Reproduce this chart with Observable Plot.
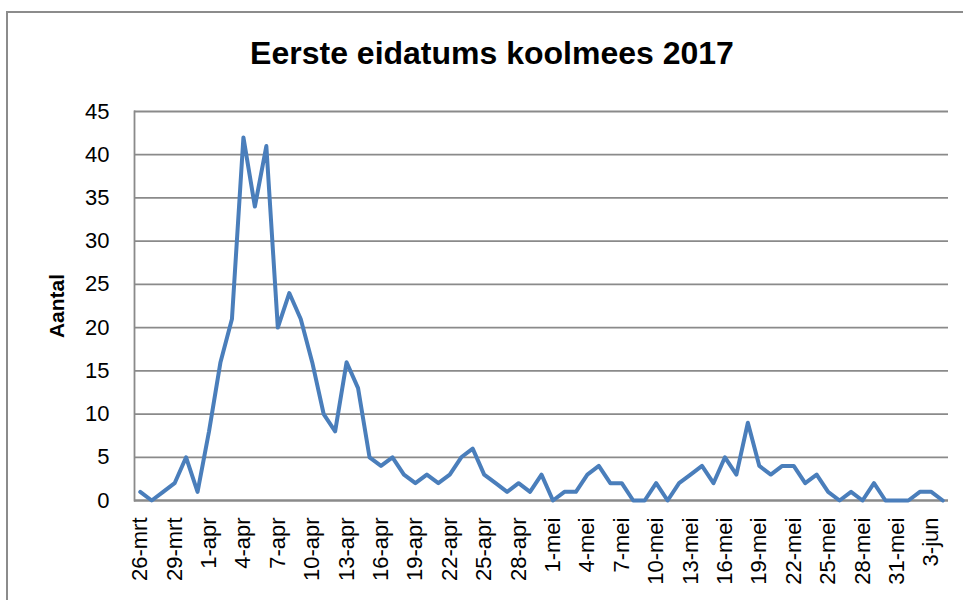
<!DOCTYPE html>
<html>
<head>
<meta charset="utf-8">
<script src="https://cdn.jsdelivr.net/npm/d3@7"></script>
<script src="https://cdn.jsdelivr.net/npm/@observablehq/plot@0.6"></script>
<style>
  html, body { margin: 0; padding: 0; background: #fff; overflow: hidden; width: 963px; height: 600px; }
  #border { position: absolute; left: 6px; top: 11px; width: 1000px; height: 700px; border: 2px solid #8c8c8c; box-sizing: border-box; }
  #title { position: relative; height: 80px; width: 963px; box-sizing: border-box; padding-left: 21px; padding-top: 33px;
           text-align: center; font-family: "Liberation Sans", Arial, sans-serif; font-weight: bold; font-size: 32px; line-height: 40px; color: #000; }
  #chart { position: relative; }
</style>
</head>
<body>
<div id="border"></div>
<div id="title">Eerste eidatums koolmees 2017</div>
<div id="chart"></div>
<script>
const dates = [
  "26-mrt","27-mrt","28-mrt","29-mrt","30-mrt","31-mrt",
  "1-apr","2-apr","3-apr","4-apr","5-apr","6-apr","7-apr","8-apr","9-apr","10-apr",
  "11-apr","12-apr","13-apr","14-apr","15-apr","16-apr","17-apr","18-apr","19-apr","20-apr",
  "21-apr","22-apr","23-apr","24-apr","25-apr","26-apr","27-apr","28-apr","29-apr","30-apr",
  "1-mei","2-mei","3-mei","4-mei","5-mei","6-mei","7-mei","8-mei","9-mei","10-mei",
  "11-mei","12-mei","13-mei","14-mei","15-mei","16-mei","17-mei","18-mei","19-mei","20-mei",
  "21-mei","22-mei","23-mei","24-mei","25-mei","26-mei","27-mei","28-mei","29-mei","30-mei","31-mei",
  "1-jun","2-jun","3-jun","4-jun"
];
const aantal = [
  1,0,1,2,5,1,
  8,16,21,42,34,41,20,24,21,16,
  10,8,16,13,5,4,5,3,2,3,
  2,3,5,6,3,2,1,2,1,3,
  0,1,1,3,4,2,2,0,0,2,
  0,2,3,4,2,5,3,9,4,3,
  4,4,2,3,1,0,1,0,2,0,0,
  0,1,1,0
];
const xTickLabels = ["26-mrt","29-mrt","1-apr","4-apr","7-apr","10-apr","13-apr","16-apr","19-apr","22-apr","25-apr","28-apr",
  "1-mei","4-mei","7-mei","10-mei","13-mei","16-mei","19-mei","22-mei","25-mei","28-mei","31-mei","3-jun"];
const yTicks = [0,5,10,15,20,25,30,35,40,45];
const yLabel = "Aantal";

const gray = "#8a8a8a";
const chart = Plot.plot({
  width: 963,
  height: 520,
  marginLeft: 134,
  marginRight: 15,
  marginTop: 31,
  marginBottom: 100,
  style: { fontFamily: "'Liberation Sans', Arial, sans-serif", fontSize: "22px", color: "#000", background: "transparent", overflow: "visible" },
  x: { type: "point", domain: dates, padding: 0.5 },
  y: { domain: [0, 45] },
  marks: [
    Plot.gridY(yTicks, { stroke: gray, strokeOpacity: 1, strokeWidth: 1.8 }),
    Plot.frame({ anchor: "left", stroke: gray, strokeOpacity: 1, strokeWidth: 1.8 }),
    Plot.ruleY([0], { stroke: gray, strokeWidth: 1.8 }),
    Plot.axisY(yTicks, { tickSize: 0, tickPadding: 25, fontSize: 22, label: null }),
    Plot.axisX(xTickLabels, { tickSize: 0, tickRotate: -90, tickPadding: 17, fontSize: 22, label: null }),
    Plot.line(aantal, { x: dates, y: aantal, stroke: "#4a7ebb", strokeWidth: 4 }),
    Plot.text([yLabel], { frameAnchor: "left", textAnchor: "middle", dx: -77, rotate: -90, fontWeight: "bold", fontSize: 21, fill: "#000" })
  ]
});
document.getElementById("chart").appendChild(chart);
</script>
</body>
</html>
